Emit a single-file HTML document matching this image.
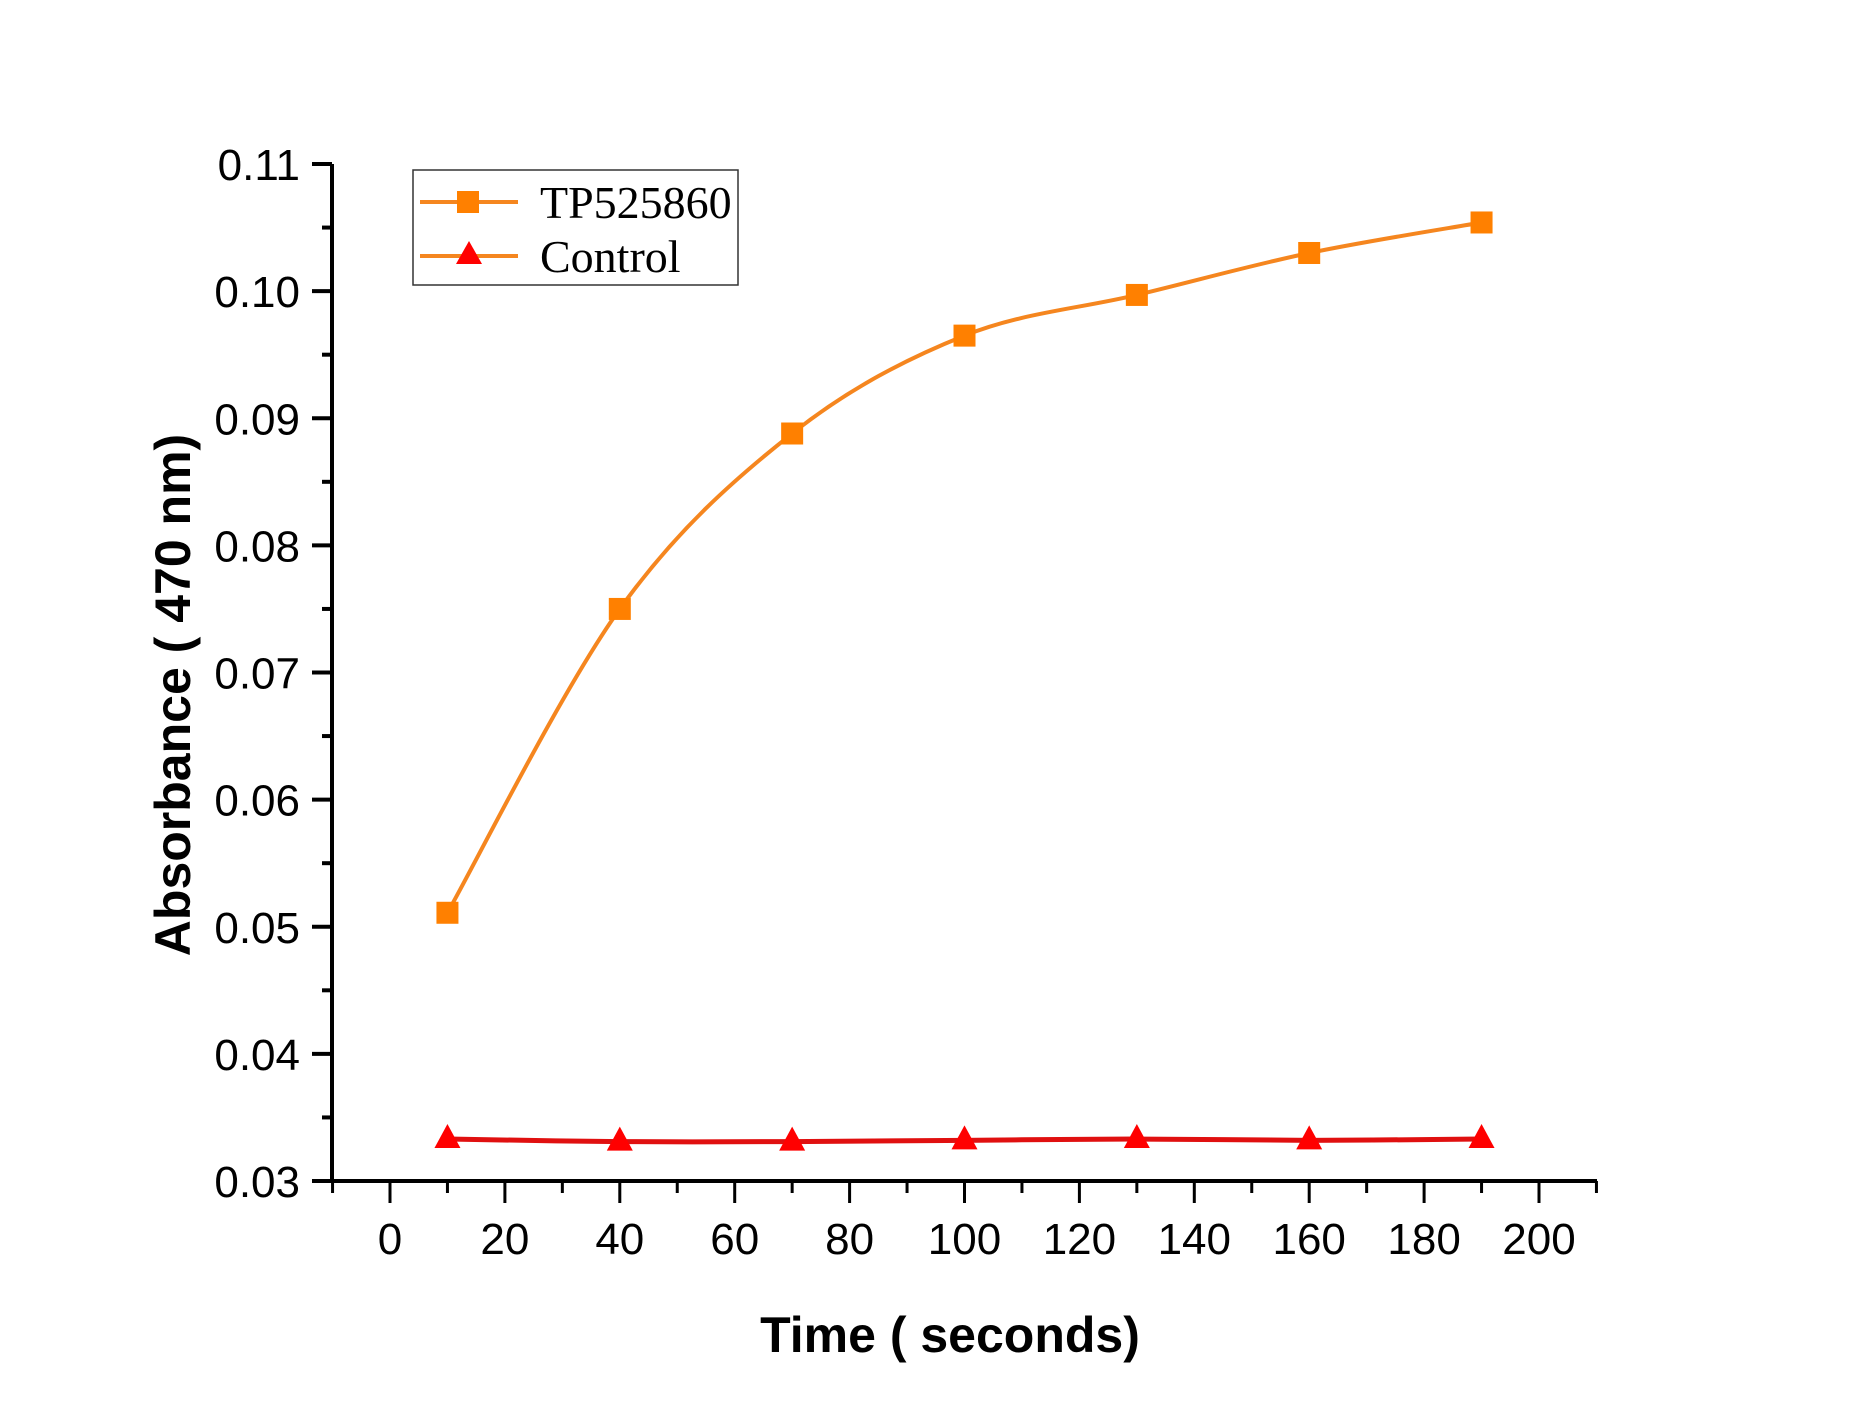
<!DOCTYPE html>
<html><head><meta charset="utf-8"><style>
html,body{margin:0;padding:0;background:#fff;width:1852px;height:1418px;overflow:hidden}
svg{display:block}
text{font-family:"Liberation Sans",Arial,sans-serif}
</style></head><body>
<svg id="chart" width="1852" height="1418" viewBox="0 0 1852 1418" xmlns="http://www.w3.org/2000/svg">
<g id="axes"></g>
<g id="series"></g>
<text x="950" y="1352" font-size="50" font-weight="bold" text-anchor="middle">Time ( seconds)</text>
<text transform="translate(190,695) rotate(-90)" font-size="50" font-weight="bold" text-anchor="middle">Absorbance ( 470 nm)</text>
<g>
<rect x="413" y="170" width="325" height="115" fill="#fff" stroke="#333" stroke-width="1.5"/>
<g>
<line x1="420" y1="202" x2="518" y2="202" stroke="#f5861f" stroke-width="4"/>
<rect x="457" y="191" width="22" height="22" fill="#ff8000"/>
<text x="540" y="218" font-size="46" style="font-family:'Liberation Serif',serif">TP525860</text>
</g>
<g>
<line x1="420" y1="256" x2="518" y2="256" stroke="#f5861f" stroke-width="4"/>
<polygon points="469,241 482,264 456,264" fill="#f00"/>
<text x="540" y="272" font-size="46" style="font-family:'Liberation Serif',serif">Control</text>
</g>
</g>
</svg>
<script>
const xValues=[10,40,70,100,130,160,190];
const tpValues=[0.0511,0.0750,0.0888,0.0965,0.0997,0.1030,0.1054];
const controlValues=[0.0333,0.0331,0.0331,0.0332,0.0333,0.0332,0.0333];
const xTicks=[0,20,40,60,80,100,120,140,160,180,200];
const yTicks=[0.03,0.04,0.05,0.06,0.07,0.08,0.09,0.10,0.11];
const yTickLabels=["0.03","0.04","0.05","0.06","0.07","0.08","0.09","0.10","0.11"];

const NS="http://www.w3.org/2000/svg";
const X0=390,X1=1539,Y0=1181,Y1=164;
function sx(v){return X0+(v-0)/(200-0)*(X1-X0);}
function sy(v){return Y0-(v-0.03)/(0.11-0.03)*(Y0-Y1);}
function mk(tag,attrs,parent){const e=document.createElementNS(NS,tag);for(const k in attrs)e.setAttribute(k,attrs[k]);parent.appendChild(e);return e;}
const axes=document.getElementById('axes');
const series=document.getElementById('series');
const AX=332;
let yAxis=mk('line',{x1:AX,y1:Y1,x2:AX,y2:Y0+2,stroke:'#000','stroke-width':4},axes);


let xAxis=mk('line',{x1:313,y1:Y0,x2:1597,y2:Y0,stroke:'#000','stroke-width':4},axes);


for(let v=-10;v<=210;v+=10){
  const major=(v%20===0);
  const t=mk('line',{x1:sx(v),y1:Y0,x2:sx(v),y2:Y0+(major?22:12),stroke:'#000','stroke-width':3},axes);
  
  
}
xTicks.forEach(v=>{
  const t=mk('text',{x:sx(v),y:1254,'font-size':44,'text-anchor':'middle'},axes);
  t.textContent=String(v);
  
  
});
for(let i=0;i<yTicks.length;i++){
  const v=yTicks[i];
  const t=mk('line',{x1:AX-20,y1:sy(v),x2:AX,y2:sy(v),stroke:'#000','stroke-width':4},axes);
  
  
  const l=mk('text',{x:300,y:sy(v)+16,'font-size':44,'text-anchor':'end'},axes);
  l.textContent=yTickLabels[i];
  
  
  if(i<yTicks.length-1){
    const m=mk('line',{x1:AX-10,y1:sy(v+0.005),x2:AX,y2:sy(v+0.005),stroke:'#000','stroke-width':4},axes);
    
    
  }
}
function smoothPath(xs,ys){
  const p=xs.map((x,i)=>[sx(x),sy(ys[i])]);
  let d=`M${p[0][0]},${p[0][1]}`;
  for(let i=0;i<p.length-1;i++){
    const p0=p[i-1]||p[i],p1=p[i],p2=p[i+1],p3=p[i+2]||p[i+1];
    const c1=[p1[0]+(p2[0]-p0[0])/6,p1[1]+(p2[1]-p0[1])/6];
    const c2=[p2[0]-(p3[0]-p1[0])/6,p2[1]-(p3[1]-p1[1])/6];
    d+=` C${c1[0]},${c1[1]} ${c2[0]},${c2[1]} ${p2[0]},${p2[1]}`;
  }
  return d;
}
let tpLine=mk('path',{d:smoothPath(xValues,tpValues),fill:'none',stroke:'#f5861f','stroke-width':4},series);


let ctLine=mk('path',{d:smoothPath(xValues,controlValues),fill:'none',stroke:'#e01010','stroke-width':5},series);


xValues.forEach((x,i)=>{
  const cx=sx(x),cy=sy(tpValues[i]);
  const r=mk('rect',{x:cx-11,y:cy-11,width:22,height:22,fill:'#ff8000'},series);
  
  
  const ty=sy(controlValues[i]);
  const tr=mk('polygon',{points:`${cx},${ty-15} ${cx+13},${ty+9} ${cx-13},${ty+9}`,fill:'#f00'},series);
  
  
});
</script>
</body></html>
